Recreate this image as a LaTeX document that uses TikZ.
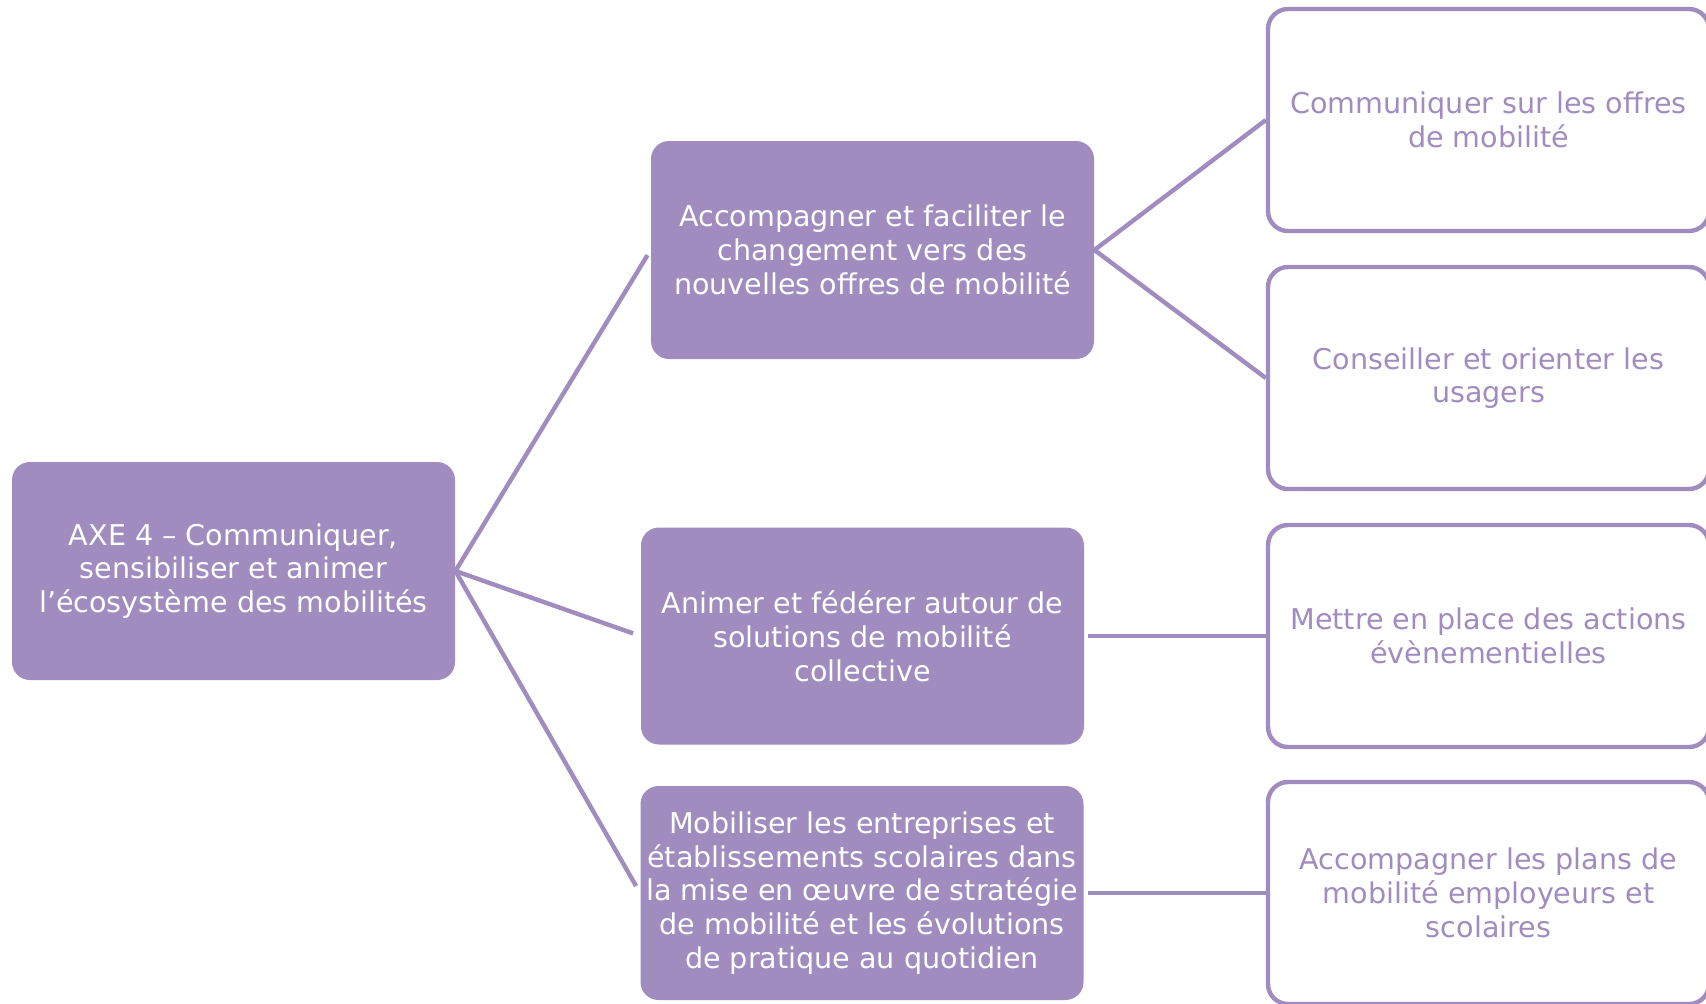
\documentclass[tikz,border=0pt]{standalone}
\usepackage{fontspec}
\setmainfont{DejaVu Sans}
\usepackage{tikz}
\definecolor{mauve}{RGB}{160,140,190}

\begin{document}
\begin{tikzpicture}[x=0.5pt, y=-0.5pt,
    plein/.style={rectangle, rounded corners=9pt, fill=mauve, text=white,
      minimum width=221.5pt, inner sep=0pt, align=center,
      font=\fontsize{14.3}{16.9}\selectfont},
    cadre/.style={rectangle, rounded corners=10pt, draw=mauve, line width=2.2pt,
      text=mauve, minimum width=220.5pt, minimum height=111pt, inner sep=0pt,
      align=center, font=\fontsize{14.3}{16.9}\selectfont},
    lien/.style={draw=mauve, line width=2.2pt}]
    \useasboundingbox (0,0) rectangle (1706,1003);
    \node[plein, minimum height=109pt] (a) at (233.5, 571) {AXE 4 – Communiquer,\\ sensibiliser et animer\\ l’écosystème des mobilités};
    \node[plein, minimum height=109pt] (b) at (872.5, 250) {Accompagner et faciliter le\\ changement vers des\\ nouvelles offres de mobilité};
    \node[plein, minimum height=108.5pt] (c) at (862.5, 636) {Animer et fédérer autour de\\ solutions de mobilité\\ collective};
    \node[plein, minimum height=107pt] (d) at (862, 893) {Mobiliser les entreprises et\\ établissements scolaires dans\\ la mise en œuvre de stratégie\\ de mobilité et les évolutions\\ de pratique au quotidien};
    \node[cadre] (e) at (1488.5, 120) {Communiquer sur les offres\\ de mobilité};
    \node[cadre] (f) at (1488.5, 378) {Conseiller et orienter les\\ usagers};
    \node[cadre] (g) at (1488.5, 636) {Mettre en place des actions\\ évènementielles};
    \node[cadre] (h) at (1488.5, 893) {Accompagner les plans de\\ mobilité employeurs et\\ scolaires};
    \draw [lien, shorten >=3pt] (a.east) to (b.west);
    \draw [lien, shorten >=4pt] (a.east) to (c.west);
    \draw [lien, shorten >=4pt] (a.east) to (d.west);
    \draw [lien] (b.east) to (e.west);
    \draw [lien] (b.east) to (f.west);
    \draw [lien, shorten <=2pt] (c.east) to (g.west);
    \draw [lien, shorten <=2pt] (d.east) to (h.west);
  \end{tikzpicture}
\end{document}
